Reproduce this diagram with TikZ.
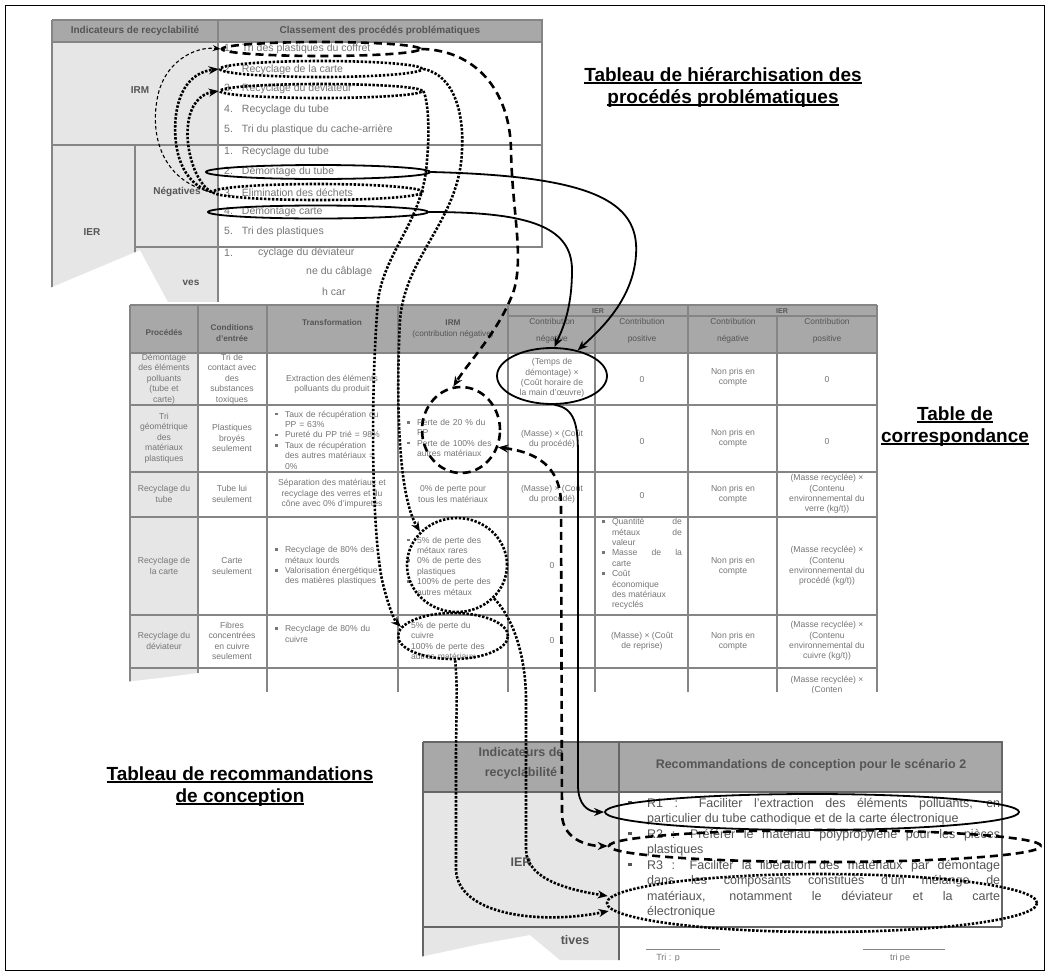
\documentclass[tikz,border=0pt]{standalone}
\usepackage{fontspec}
\setmainfont{Liberation Sans}
\usepackage{xcolor}
\usepackage{tikz}
\usetikzlibrary{positioning, arrows.meta, calc, shapes.geometric}
\definecolor{headgray}{HTML}{A8A8A8}
\definecolor{cellgray}{HTML}{E6E6E6}
\definecolor{rulegray}{HTML}{858585}
\definecolor{blurtext}{HTML}{767676}
\definecolor{blurbold}{HTML}{555555}

\newsavebox\capbox
\newcommand{\ulbox}[1]{\sbox\capbox{#1}\rlap{\rule[-2.6pt]{\wd\capbox}{1.5pt}}\usebox\capbox}
\newcommand{\sqbul}{\raisebox{1.8pt}{\rule{2.6pt}{2.6pt}}}
\newcommand{\tabitem}[1]{\hangindent=10pt\hangafter=1\noindent\makebox[10pt][l]{\sqbul}#1\par}
\newcommand{\recoitem}[1]{\hangindent=19pt\hangafter=1\noindent\makebox[19pt][l]{\raisebox{3pt}{\rule{3.6pt}{3.6pt}}}#1\par}

\tikzset{
  tblrule/.style={draw=rulegray, line width=1.6pt},
  cellc/.style={font=\fontsize{8.6}{10.4}\selectfont, text=blurtext, align=center, inner sep=0pt},
  celll/.style={font=\fontsize{8.6}{10.4}\selectfont, text=blurtext, align=left, inner sep=0pt},
  cellj/.style={font=\fontsize{8.6}{10.4}\selectfont, text=blurtext, align=justify, inner sep=0pt},
  hdc/.style={font=\bfseries\fontsize{8.2}{11}\selectfont, text=blurbold, align=center, inner sep=0pt},
  hdl/.style={font=\fontsize{8.4}{17}\selectfont, text=blurbold, align=center, inner sep=0pt},
  t1head/.style={font=\bfseries\fontsize{10}{12}\selectfont, text=blurbold, inner sep=0pt},
  t1bold/.style={font=\bfseries\fontsize{10}{12}\selectfont, text=blurbold, inner sep=0pt},
  t1item/.style={font=\fontsize{10.5}{12}\selectfont, text=blurtext, anchor=west, inner sep=0pt},
  t3head/.style={font=\bfseries\fontsize{12.5}{20}\selectfont, text=blurbold, align=center, inner sep=0pt},
  t3text/.style={font=\fontsize{12.5}{15.5}\selectfont, text=blurbold, align=justify, text width=372pt, inner sep=0pt},
  caption/.style={font=\bfseries\fontsize{19}{22}\selectfont, anchor=base, inner sep=0pt},
  ring/.style={ellipse, draw=black, inner sep=0pt},
  solidring/.style={ring, line width=1.8pt},
  dashring/.style={ring, line width=2.6pt, dash pattern=on 8pt off 5pt},
  dotring/.style={ring, line width=2.6pt, dash pattern=on 2.4pt off 1.6pt},
  solidlink/.style={draw, line width=1.8pt, ->},
  dashlink/.style={draw, line width=2.6pt, dash pattern=on 8pt off 5pt, ->},
  thinlink/.style={draw, line width=1.1pt, dash pattern=on 3.5pt off 2.5pt, -{Stealth[length=8pt,width=6pt]}},
  dotlink/.style={draw, line width=2.6pt, dash pattern=on 2.4pt off 1.6pt, ->},
}

\begin{document}
\begin{tikzpicture}[x=1pt, y=-1pt, >={Stealth[length=10pt,width=8pt]}]
\useasboundingbox (0,0) rectangle (1049,975);
\fill[white] (0,0) rectangle (1049,975);
\draw[line width=0.9pt] (5,5) rectangle (1044,970);

% tableau de hierarchisation (capture dechiree en bas)
\begin{scope}
  \clip (45,12) -- (560,12) -- (560,249) -- (372,249) -- (372,302) -- (168,302) -- (140,250) -- (45,290) -- cycle;
  \fill[headgray] (52,20) rectangle (542,42);
  \fill[cellgray] (52,42) rectangle (218,302);
  \draw[tblrule] (52,20) -- (542,20) -- (542,247) -- (135,247)
    (52,20) -- (52,302) (218,20) -- (218,302) (135,145) -- (135,302)
    (52,42) -- (542,42);
  \draw[tblrule, line width=2.4pt] (52,145) -- (542,145);
  \node[t1head] (hIndic) at (135,31) {Indicateurs de recyclabilité};
  \node[t1head] (hClass) at (380,31) {Classement des procédés problématiques};
  \node[t1bold] (hIRM) at (140,90) {IRM};
  \node[t1bold] (hIER) at (92,232) {IER};
  \node[t1bold] (hNeg) at (177,192) {Négatives};
  \node[t1bold] (hPos) at (191,283) {ves};
  \foreach \y/\txt [count=\n] in {49/Tri des plastiques du coffret, 70/Recyclage de la carte,
      89/Recyclage du déviateur, 110/Recyclage du tube, 130/Tri du plastique du cache-arrière}
    \node[t1item] (irm\n) at (224,\y) {\n.\hspace{9pt}\txt};
  \foreach \y/\txt [count=\n] in {152/Recyclage du tube, 172/Démontage du tube,
      192/Élimination des déchets, 212/Démontage carte, 232/Tri des plastiques}
    \node[t1item] (ier\n) at (224,\y) {\n.\hspace{9pt}\txt};
  \node[t1item] (posA) at (224,253) {1.};
  \node[t1item] (posB) at (258,253) {cyclage du déviateur};
  \node[t1item] (posC) at (306,272) {ne du câblage};
  \node[t1item] (posD) at (322,292) {h car};
\end{scope}

% table de correspondance
\begin{scope}
  \clip (125,300) rectangle (885,692);
  \fill[headgray] (130,305) rectangle (877,353);
  \fill[cellgray] (130,353) rectangle (198,692);
  \foreach \y in {305,353,405,472,517,615,668}
    \draw[tblrule, line width=1.3pt] (130,\y) -- (877,\y);
  \draw[tblrule, line width=1.3pt] (508,316) -- (877,316);
  \foreach \x in {130,198,267,398,508,688,877}
    \draw[tblrule, line width=1.3pt] (\x,305) -- (\x,692);
  \foreach \x in {595,777}
    \draw[tblrule, line width=1.3pt] (\x,316) -- (\x,692);
  % en-tetes
  \node[hdc, font=\bfseries\fontsize{7}{8}\selectfont] (gIERa) at (598,311) {IER};
  \node[hdc, font=\bfseries\fontsize{7}{8}\selectfont] (gIERb) at (782,311) {IER};
  \node[hdc] (hProc) at (164,333) {Procédés};
  \node[hdc] (hCond) at (232,333) {Conditions\\d'entrée};
  \node[hdc] (hTrans) at (332,323) {Transformation};
  \node[hdc] (hIrm) at (453,329) {IRM\\{\mdseries (contribution négative)}};
  \node[hdl] (hNegA) at (552,331) {Contribution\\négative};
  \node[hdl] (hPosA) at (642,331) {Contribution\\positive};
  \node[hdl] (hNegB) at (733,331) {Contribution\\négative};
  \node[hdl] (hPosB) at (827,331) {Contribution\\positive};
  % ligne 1
  \node[cellc] (p1) at (164,379) {Démontage\\des éléments\\polluants\\(tube et\\carte)};
  \node[cellc] (c1) at (232,379) {Tri de\\contact avec\\des\\substances\\toxiques};
  \node[cellc] (tr1) at (332,384) {Extraction des éléments\\polluants du produit};
  \node[cellc] (n1) at (552,378) {(Temps de\\démontage) ×\\(Coût horaire de\\la main d'œuvre)};
  \node[cellc] (z1) at (642,380) {0};
  \node[cellc] (nb1) at (733,377) {Non pris en\\compte};
  \node[cellc] (pp1) at (827,380) {0};
  % ligne 2
  \node[cellc] (p2) at (164,438) {Tri\\géométrique\\des\\matériaux\\plastiques};
  \node[cellc] (c2) at (232,438) {Plastiques\\broyés\\seulement};
  \node[celll, text width=120pt] (tr2) at (335,440) {\tabitem{Taux de récupération du\newline PP = 63\%}\tabitem{Pureté du PP trié = 98\%}\tabitem{Taux de récupération\newline des autres matériaux =\newline 0\%}};
  \node[celll, text width=98pt] (irm2) at (456,438) {\tabitem{Perte de 20 \% du\newline PP}\tabitem{Perte de 100\% des\newline autres matériaux}};
  \node[cellc] (n2) at (552,439) {(Masse) × (Coût\\du procédé)};
  \node[cellc] (z2) at (642,442) {0};
  \node[cellc] (nb2) at (733,438) {Non pris en\\compte};
  \node[cellc] (pp2) at (827,442) {0};
  % ligne 3
  \node[cellc] (p3) at (164,494) {Recyclage du\\tube};
  \node[cellc] (c3) at (232,494) {Tube lui\\seulement};
  \node[cellc] (tr3) at (332,494) {Séparation des matériaux et\\recyclage des verres et du\\cône avec 0\% d'impuretés};
  \node[cellc] (irm3) at (453,494) {0\% de perte pour\\tous les matériaux};
  \node[cellc] (n3) at (552,494) {(Masse) × (Coût\\du procédé)};
  \node[cellc] (z3) at (642,496) {0};
  \node[cellc] (nb3) at (733,494) {Non pris en\\compte};
  \node[cellc] (pp3) at (827,494) {(Masse recyclée) ×\\(Contenu\\environnemental du\\verre (kg/t))};
  % ligne 4
  \node[cellc] (p4) at (164,566) {Recyclage de\\la carte};
  \node[cellc] (c4) at (232,566) {Carte\\seulement};
  \node[celll, text width=120pt] (tr4) at (335,566) {\tabitem{Recyclage de 80\% des\newline métaux lourds}\tabitem{Valorisation énergétique\newline des matières plastiques}};
  \node[celll, text width=98pt] (irm4) at (456,566) {\tabitem{5\% de perte des\newline métaux rares}\tabitem{0\% de perte des\newline plastiques}\tabitem{100\% de perte des\newline autres métaux}};
  \node[cellc] (n4) at (552,566) {0};
  \node[cellj, text width=80pt] (z4) at (642,564) {\tabitem{Quantité de\linebreak métaux de\linebreak valeur}\tabitem{Masse de la\linebreak carte}\tabitem{Coût\newline économique\newline des matériaux\newline recyclés}};
  \node[cellc] (nb4) at (733,566) {Non pris en\\compte};
  \node[cellc] (pp4) at (827,566) {(Masse recyclée) ×\\(Contenu\\environnemental du\\procédé (kg/t))};
  % ligne 5
  \node[cellc] (p5) at (164,641) {Recyclage du\\déviateur};
  \node[cellc] (c5) at (232,641) {Fibres\\concentrées\\en cuivre\\seulement};
  \node[celll, text width=120pt] (tr5) at (335,634) {\tabitem{Recyclage de 80\% du\newline cuivre}};
  \node[celll, text width=98pt] (irm5) at (460,641) {5\% de perte du\\cuivre\\100\% de perte des\\autres matériaux};
  \node[cellc] (n5) at (552,641) {0};
  \node[cellc] (z5) at (642,641) {(Masse) × (Coût\\de reprise)};
  \node[cellc] (nb5) at (733,641) {Non pris en\\compte};
  \node[cellc] (pp5) at (827,641) {(Masse recyclée) ×\\(Contenu\\environnemental du\\cuivre (kg/t))};
  \node[cellc] (pp6) at (827,685) {(Masse recyclée) ×\\(Conten};
  \fill[white] (125,695) -- (125,682) -- (160,678) -- (198,673) -- (232,686) -- (255,695) -- cycle;
\end{scope}

% tableau de recommandations
\begin{scope}
  \clip (415,735) -- (1015,735) -- (1015,960) -- (560,960) -- (530,935) -- (480,944) -- (415,958) -- cycle;
  \fill[headgray] (423,742) rectangle (1002,792);
  \fill[cellgray] (423,792) rectangle (619,965);
  \draw[tblrule, draw=black!60, line width=1.8pt] (423,742) -- (1002,742) -- (1002,927)
    (423,742) -- (423,965) (619,742) -- (619,965)
    (423,792) -- (1002,792) (423,927) -- (1002,927);
  \node[t3head] (h3Ind) at (521,763) {Indicateurs de\\recyclabilité};
  \node[t3head] (h3Rec) at (811,765) {Recommandations de conception pour le scénario 2};
  \node[t3head] (h3IER) at (521,862) {IER};
  \node[t3head] (h3Pos) at (575,940) {tives};
  \node[t3text, anchor=north west] (recoTxt) at (628,798) {%
    \recoitem{R1 : Faciliter l'extraction des éléments polluants, en\linebreak particulier du tube cathodique et de la carte électronique}
    \recoitem{R2 : Préférer le matériau polypropylène pour les pièces\linebreak plastiques}
    \recoitem{R3 : Faciliter la libération des matériaux par démontage\linebreak dans les composants constitués d'un mélange de\linebreak matériaux, notamment le déviateur et la carte\linebreak électronique}};
  \draw[rulegray, line width=1pt] (646,949) -- (720,949) (863,949) -- (945,949);
  \node[cellc, font=\fontsize{9}{10}\selectfont] (triA) at (668,958) {Tri : p};
  \node[cellc, font=\fontsize{9}{10}\selectfont] (triB) at (900,958) {tri pe};
\end{scope}

% titres
\node[caption] (capHierA) at (723,81) {\ulbox{Tableau de hiérarchisation des}};
\node[caption] (capHierB) at (723,103) {\ulbox{procédés problématiques}};
\node[caption] (capCorrA) at (955,420) {\ulbox{Table de}};
\node[caption] (capCorrB) at (955,442) {\ulbox{correspondance}};
\node[caption] (capRecoA) at (240,780) {\ulbox{Tableau de recommandations}};
\node[caption] (capRecoB) at (240,802) {\ulbox{de conception}};

% ellipses
\node[dashring, minimum width=198pt, minimum height=14pt] (cofA) at (321,49) {};
\node[dotring, minimum width=202pt, minimum height=16pt] (cartB) at (321,69) {};
\node[dotring, minimum width=202pt, minimum height=14pt] (devC) at (321,91) {};
\node[solidring, minimum width=224pt, minimum height=14pt] (tubeD) at (318,172) {};
\node[dotring, minimum width=210pt, minimum height=16pt] (elimE) at (318,192) {};
\node[solidring, minimum width=220pt, minimum height=13pt] (carteF) at (318,212) {};
\node[solidring, minimum width=110pt, minimum height=56pt] (tempsG) at (552,376) {};
\node[dashring, minimum width=78pt, minimum height=86pt] (plastH) at (461,430) {};
\node[dotring, minimum width=100pt, minimum height=94pt] (carteI) at (457,565) {};
\node[dotring, minimum width=110pt, minimum height=46pt] (devJ) at (453,636) {};
\node[solidring, minimum width=414pt, minimum height=36pt] (recoR1) at (812,812) {};
\node[dashring, minimum width=432pt, minimum height=32pt] (recoR2) at (825,846) {};
\node[dotring, minimum width=430pt, minimum height=58pt] (recoR3) at (822,903) {};

% liens
\draw[thinlink] (elimE.west) .. controls (165,182) and (150,140) .. (157,100) .. controls (163,62) and (195,46) .. (cofA.west);
\draw[dotlink] (elimE.west) .. controls (182,184) and (172,150) .. (176,115) .. controls (180,85) and (195,72) .. (cartB.west);
\draw[dotlink] (elimE.west) .. controls (196,184) and (185,150) .. (188,125) .. controls (190,105) and (200,94) .. (devC.west);
\draw[solidlink] (tubeD.east) .. controls (590,176) and (640,200) .. (636,255) .. controls (633,300) and (600,330) .. (tempsG.45);
\draw[solidlink] (carteF.east) .. controls (525,212) and (572,225) .. (572,270) .. controls (572,310) and (562,330) .. (tempsG.85);
\draw[solidlink] (tempsG.-85) .. controls (575,408) and (578,425) .. (578,455) -- (578,785) .. controls (578,805) and (588,812) .. (recoR1.west);
\draw[dashlink] (cofA.east) .. controls (475,50) and (510,90) .. (511,150) .. controls (512,210) and (524,255) .. (514,290) .. controls (500,330) and (470,360) .. (plastH.100);
\draw[dashlink, <->] (plastH.-25) .. controls (535,452) and (561,465) .. (561,505) -- (562,815) .. controls (563,838) and (585,846) .. (recoR2.west);
\draw[dotlink] (cartB.east) .. controls (455,75) and (464,115) .. (462,150) .. controls (460,220) and (405,255) .. (400,320) .. controls (396,400) and (398,495) .. (carteI.138);
\draw[dotlink] (devC.east) .. controls (428,100) and (430,130) .. (427,160) .. controls (424,220) and (385,250) .. (378,300) .. controls (370,400) and (372,530) .. (382,580) .. controls (388,605) and (394,620) .. (devJ.170);
\draw[dotlink] (carteI.-42) .. controls (515,620) and (526,660) .. (526,700) -- (526,850) .. controls (527,880) and (570,890) .. ($(recoR3.west)+(2,-7)$);
\draw[dotlink] (devJ.-85) .. controls (458,690) and (456,720) .. (456,760) -- (456,870) .. controls (458,915) and (540,925) .. ($(recoR3.west)+(3,8)$);
\end{tikzpicture}
\end{document}
